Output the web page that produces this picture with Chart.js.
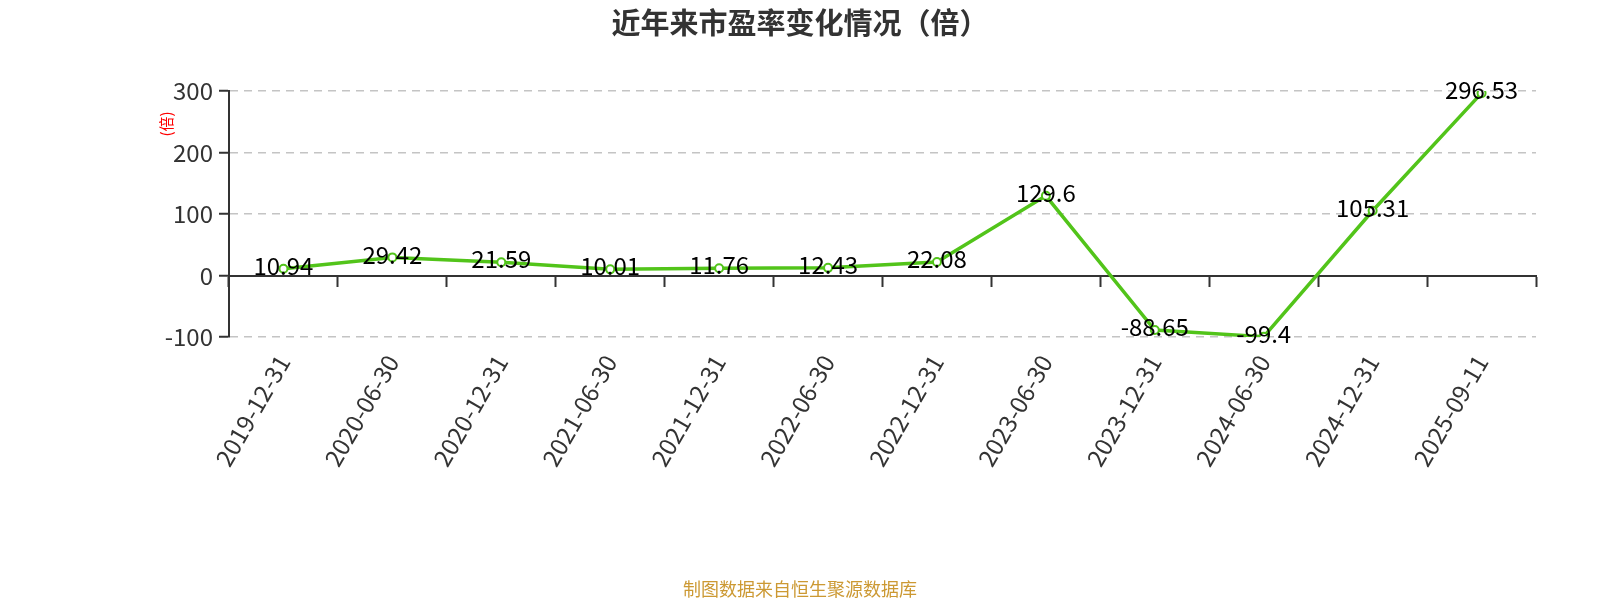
<!DOCTYPE html>
<html>
<head>
<meta charset="utf-8">
<script src="https://cdn.jsdelivr.net/npm/chart.js@4/dist/chart.umd.min.js"></script>
<style>
  body { margin: 0; background: #fff; }
  #wrap { width: 1600px; height: 600px; position: relative; }
</style>
</head>
<body>
<div id="wrap"><canvas id="peChart"></canvas></div>
<script>
const dates = ['2019-12-31', '2020-06-30', '2020-12-31', '2021-06-30', '2021-12-31', '2022-06-30',
  '2022-12-31', '2023-06-30', '2023-12-31', '2024-06-30', '2024-12-31', '2025-09-11'];
const peValues = [10.94, 29.42, 21.59, 10.01, 11.76, 12.43, 22.08, 129.6, -88.65, -99.4, 105.31, 296.53];
const yTicks = [-100, 0, 100, 200, 300];

const FONT = '"Microsoft YaHei", "Noto Sans CJK SC", "Noto Sans", sans-serif';
const green = '#52c41a';

// titles, unit label, point labels
const textPlugin = {
  id: 'texts',
  afterDraw(chart) {
    const ctx = chart.ctx;
    ctx.save();
    ctx.textAlign = 'center';
    ctx.textBaseline = 'middle';

    ctx.fillStyle = '#333';
    ctx.font = 'bold 29px ' + FONT;
    ctx.fillText('近年来市盈率变化情况（倍）', 800, 23);

    ctx.fillStyle = '#cc9933';
    ctx.font = '18px ' + FONT;
    ctx.fillText('制图数据来自恒生聚源数据库', 800, 589);

    ctx.save();
    ctx.translate(166, 124);
    ctx.rotate(-Math.PI / 2);
    ctx.fillStyle = '#ff0000';
    ctx.font = '15px ' + FONT;
    ctx.fillText('(倍)', 0, 0);
    ctx.restore();

    ctx.fillStyle = '#000';
    ctx.font = '24px ' + FONT;
    const meta = chart.getDatasetMeta(0);
    meta.data.forEach((pt, i) => {
      ctx.fillText(String(peValues[i]), pt.x, pt.y - 3);
    });
    ctx.restore();
  }
};

new Chart(document.getElementById('peChart'), {
  type: 'line',
  data: {
    labels: dates,
    datasets: [{
      data: peValues,
      borderColor: green,
      borderWidth: 3.5,
      pointRadius: 4,
      pointBorderWidth: 2,
      pointBackgroundColor: '#fff',
      pointBorderColor: green,
      tension: 0,
      xAxisID: 'x'
    }]
  },
  options: {
    responsive: true,
    maintainAspectRatio: false,
    animation: false,
    layout: { padding: { top: 91, right: 64, left: 0, bottom: 0 } },
    plugins: { legend: { display: false }, tooltip: { enabled: false } },
    scales: {
      x: {
        type: 'category',
        offset: true,
        grid: { display: false },
        border: { display: false },
        ticks: {
          autoSkip: false,
          minRotation: 60,
          maxRotation: 60,
          padding: 5,
          color: '#333',
          font: { size: 24, family: FONT }
        },
        afterFit(scale) { scale.height = 263; }
      },
      x2: {
        type: 'category',
        labels: dates,
        offset: true,
        position: { y: 0 },
        grid: {
          offset: true,
          drawOnChartArea: false,
          drawTicks: true,
          tickLength: 10,
          tickColor: '#333',
          tickWidth: 2
        },
        border: { display: true, color: '#333', width: 2 },
        ticks: { display: false },
        afterFit(scale) { scale.height = 0; }
      },
      y: {
        min: -100,
        max: 300,
        afterBuildTicks(scale) { scale.ticks = yTicks.map(v => ({ value: v })); },
        grid: {
          color: (c) => (c.tick && c.tick.value === 0 ? 'rgba(0,0,0,0)' : '#c4c4c4'),
          lineWidth: 1.5,
          tickLength: 10,
          tickColor: '#333',
          tickWidth: 2
        },
        border: { display: true, color: '#333', width: 2, dash: [8, 6] },
        ticks: {
          padding: 6,
          color: '#333',
          font: { size: 24, family: FONT }
        },
        afterFit(scale) { scale.width = 229; }
      }
    }
  },
  plugins: [textPlugin]
});
</script>
</body>
</html>
